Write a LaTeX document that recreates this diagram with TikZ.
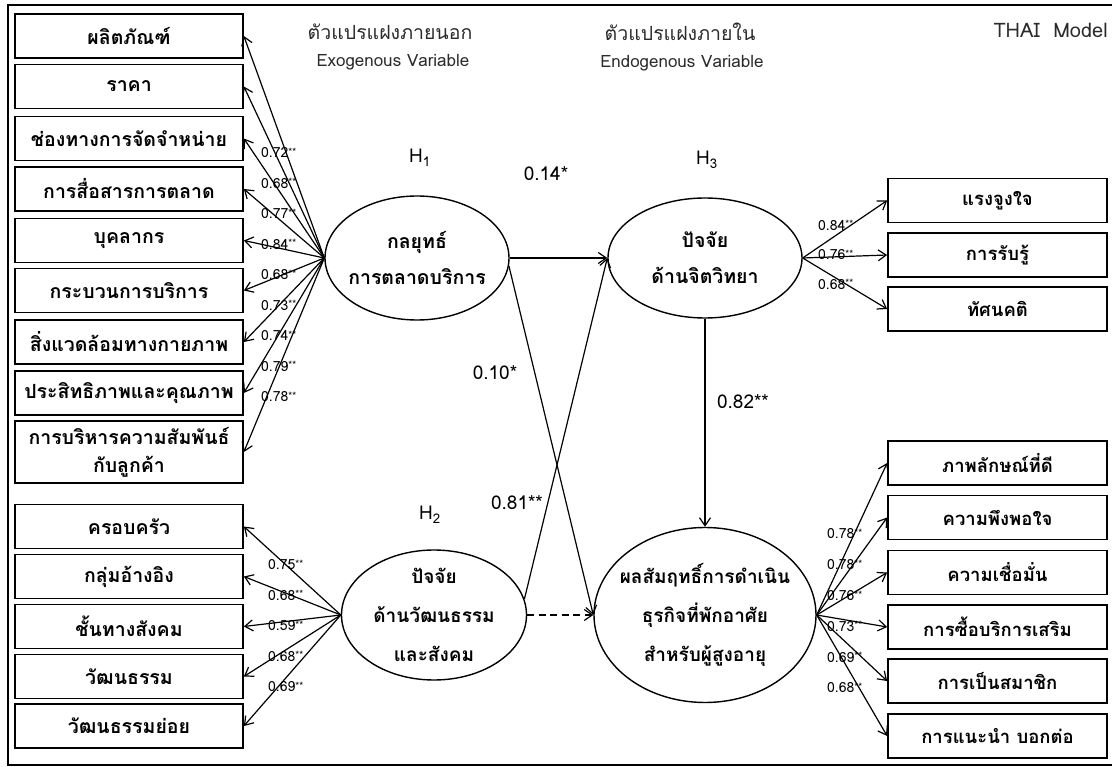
\documentclass[tikz,border=0pt]{standalone}
\usepackage{fontspec}
\setmainfont[Script=Thai]{Loma}
\usepackage{tikz}
\usetikzlibrary{shapes.geometric,arrows.meta}
\definecolor{InkBlack}{HTML}{000000}
\definecolor{HeadGray}{HTML}{2B2B2B}
\newcommand{\lds}[1]{#1\raisebox{0.35ex}{\fontsize{10}{10}\selectfont **}}

\begin{document}
\begin{tikzpicture}[x=1pt,y=-1pt,
  obs/.style={draw=InkBlack, line width=1.7pt, minimum width=228pt, minimum height=44pt, inner sep=0pt, align=center, font=\bfseries\fontsize{19.5}{28}\selectfont},
  robs/.style={obs, minimum width=219pt, font=\bfseries\fontsize{18.5}{28}\selectfont},
  lat/.style={ellipse, draw=InkBlack, line width=1.4pt, inner sep=0pt},
  lattxt/.style={align=center, inner sep=0pt, font=\bfseries\fontsize{19}{39}\selectfont},
  ld/.style={anchor=west, inner sep=0pt, font=\fontsize{14}{14}\selectfont},
  coef/.style={inner sep=0pt, font=\fontsize{19}{19}\selectfont},
  arr/.style={-{Straight Barb[length=8pt,width=11pt]}, line width=1.2pt},
  head/.style={inner sep=0pt, text=HeadGray, font=\fontsize{17}{17}\selectfont}]
\useasboundingbox (0,0) rectangle (1112,767);

% --- frame and headings ---
\draw[line width=2pt] (1116,5) -- (8,5) -- (8,765) -- (1116,765);
\node[head, font=\fontsize{19.5}{19}\selectfont] (hd-exo-th) at (390,32) {ตัวแปรแฝงภายนอก};
\node[head] (hd-exo-en) at (393,62) {Exogenous Variable};
\node[head, font=\fontsize{19.5}{19}\selectfont] (hd-endo-th) at (680,32) {ตัวแปรแฝงภายใน};
\node[head] (hd-endo-en) at (682,63) {Endogenous Variable};
\node[head, anchor=east, font=\fontsize{20}{20}\selectfont] (hd-model) at (1108,30) {THAI\ \ Model};

% --- latent variables ---
\node[lat, minimum width=184pt, minimum height=124pt] (mkt) at (417,258) {};
\node[lattxt, font=\bfseries\fontsize{19.5}{36}\selectfont] (mkt-t) at (mkt) {กลยุทธ์\\การตลาดบริการ};
\node[lat, minimum width=194pt, minimum height=120pt] (psy) at (705,258) {};
\node[lattxt, font=\bfseries\fontsize{19.5}{36}\selectfont] (psy-t) at (psy) {ปัจจัย\\ด้านจิตวิทยา};
\node[lat, minimum width=185pt, minimum height=130pt] (cul) at (434,615) {};
\node[lattxt] (cul-t) at (cul) {ปัจจัย\\ด้านวัฒนธรรม\\และสังคม};
\node[lat, minimum width=222pt, minimum height=175pt] (res) at (705,615) {};
\node[lattxt] (res-t) at (res) {ผลสัมฤทธิ์การดำเนิน\\ธุรกิจที่พักอาศัย\\สำหรับผู้สูงอายุ};

\node[coef] (h1) at (420,158) {H\textsubscript{1}};
\node[coef] (h3) at (707,160) {H\textsubscript{3}};
\node[coef] (h2) at (430,515) {H\textsubscript{2}};

% --- indicators of marketing mix ---
\foreach \i/\lab/\yy in {1/ผลิตภัณฑ์/36, 2/ราคา/86.5, 3/ช่องทางการจัดจำหน่าย/138.5, 4/การสื่อสารการตลาด/189, 5/บุคลากร/240.5, 6/กระบวนการบริการ/290.5, 7/สิ่งแวดล้อมทางกายภาพ/342, 8/ประสิทธิภาพและคุณภาพ/393}
  \node[obs] (m-\i) at (129,\yy) {\lab};
\node[obs, minimum height=62pt] (m-9) at (129,452) {การบริหารความสัมพันธ์\\กับลูกค้า};
\foreach \i in {1,...,9}
  \draw[arr] (mkt.west) -- (m-\i.east);
\foreach \v [count=\k] in {0.72,0.68,0.77,0.84,0.68,0.73,0.74,0.79,0.78}
  \node[ld] (lm-\k) at (261,122.5+30.5*\k) {\lds{\v}};

% --- indicators of culture and society ---
\foreach \i/\lab/\yy in {1/ครอบครัว/526.5, 2/กลุ่มอ้างอิง/576.5, 3/ชั้นทางสังคม/626.5, 4/วัฒนธรรม/676.5, 5/วัฒนธรรมย่อย/726}
  \node[obs] (c-\i) at (129,\yy) {\lab};
\foreach \i in {1,...,5}
  \draw[arr] (cul.west) -- (c-\i.east);
\foreach \v [count=\k] in {0.75,0.68,0.59,0.68,0.69}
  \node[ld] (lc-\k) at (268,534.5+30.5*\k) {\lds{\v}};

% --- indicators of psychology ---
\foreach \i/\lab/\yy in {1/แรงจูงใจ/200.5, 2/การรับรู้/255, 3/ทัศนคติ/309}
  \node[robs] (p-\i) at (997.5,\yy) {\lab};
\foreach \i in {1,2,3}
  \draw[arr] (psy.east) -- (p-\i.west);
\foreach \v [count=\k] in {0.84,0.76,0.68}
  \node[ld] (lp-\k) at (818,196+29.5*\k) {\lds{\v}};

% --- indicators of results ---
\foreach \i/\lab/\yy in {1/ภาพลักษณ์ที่ดี/463, 2/ความพึงพอใจ/517.5, 3/ความเชื่อมั่น/572.5, 4/การซื้อบริการเสริม/627, 5/การเป็นสมาชิก/681, 6/การแนะนำ บอกต่อ/736}
  \node[robs] (r-\i) at (997.5,\yy) {\lab};
\foreach \i in {1,...,6}
  \draw[arr] (res.east) -- (r-\i.west);
\foreach \v [count=\k] in {0.78,0.78,0.76,0.73,0.69,0.68}
  \node[ld] (lr-\k) at (827,503.2+30.8*\k) {\lds{\v}};

% --- structural paths ---
\draw[arr] (mkt.east) -- (psy.west);
\draw[arr] (mkt.-5) -- (res.west);
\draw[arr] (cul.10) -- (psy.west);
\draw[arr, dash pattern=on 7pt off 4.5pt] (cul.east) -- (res.west);
\draw[arr] (psy.south) -- (res.north);
\node[coef] (k-mp) at (546,174) {0.14*};
\node[coef] (k-mr) at (495,373) {0.10*};
\node[coef] (k-cp) at (517,503) {0.81**};
\node[coef] (k-pr) at (743,402) {0.82**};
\end{tikzpicture}
\end{document}
